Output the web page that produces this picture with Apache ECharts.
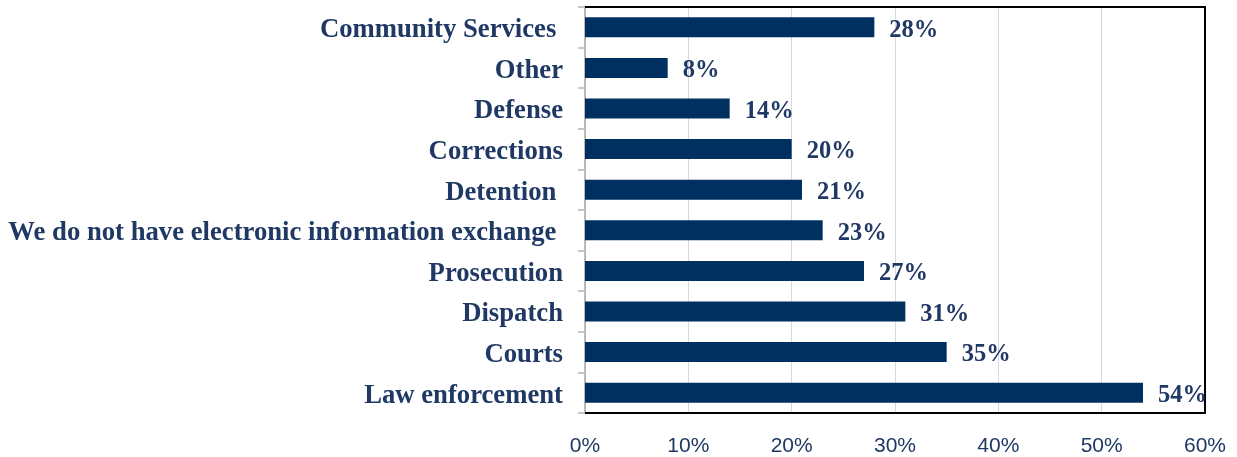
<!DOCTYPE html>
<html>
<head>
<meta charset="utf-8">
<script src="https://cdn.jsdelivr.net/npm/echarts@6/dist/echarts.min.js"></script>
<style>
  html, body { margin: 0; padding: 0; background: #ffffff; }
  #chart { width: 1237px; height: 457px; }
</style>
</head>
<body>
<div id="chart"></div>
<script>
// Categories listed from bottom to top (category axes grow upward)
const categories = [
  'Law enforcement',
  'Courts',
  'Dispatch',
  'Prosecution',
  'We do not have electronic information exchange ',
  'Detention ',
  'Corrections',
  'Defense',
  'Other',
  'Community Services '
];
const percentValues = [54, 35, 31, 27, 23, 21, 20, 14, 8, 28];
const tickValues = [0, 10, 20, 30, 40, 50, 60];

const navy = '#1f3864';
const barColor = '#003060';

const chart = echarts.init(document.getElementById('chart'));
chart.setOption({
  animation: false,
  grid: { left: 585, right: 32, top: 7, bottom: 44, containLabel: false },
  xAxis: [
    {
      type: 'value',
      min: tickValues[0],
      max: tickValues[tickValues.length - 1],
      interval: 10,
      position: 'bottom',
      axisLine: { show: true, onZero: false, lineStyle: { color: '#000000', width: 2 } },
      axisTick: { show: false },
      axisLabel: {
        formatter: v => v + '%',
        color: navy,
        fontFamily: 'Liberation Sans, Arial, sans-serif',
        fontSize: 21,
        margin: 23
      },
      splitLine: { show: true, lineStyle: { color: '#d9d9d9', width: 1 } }
    },
    {
      type: 'value',
      min: tickValues[0],
      max: tickValues[tickValues.length - 1],
      interval: 10,
      position: 'top',
      axisLine: { show: true, onZero: false, lineStyle: { color: '#000000', width: 2 } },
      axisTick: { show: false },
      axisLabel: { show: false },
      splitLine: { show: false }
    }
  ],
  yAxis: [
    {
      type: 'category',
      data: categories,
      position: 'left',
      axisLine: { show: true, onZero: false, lineStyle: { color: '#a6a6a6', width: 1.5 } },
      axisTick: { show: true, length: 7, lineStyle: { color: '#c8c8c8', width: 2 } },
      axisLabel: {
        color: navy,
        fontFamily: 'Liberation Serif, Times New Roman, serif',
        fontWeight: 'bold',
        fontSize: 26.7,
        margin: 22,
        // top-anchored short line box: glyphs sit a few pixels below the band centre
        verticalAlign: 'top',
        lineHeight: 6
      }
    },
    {
      type: 'category',
      data: categories,
      position: 'right',
      axisLine: { show: true, onZero: false, lineStyle: { color: '#000000', width: 2 } },
      axisTick: { show: false },
      axisLabel: { show: false }
    }
  ],
  series: [
    {
      type: 'bar',
      data: percentValues,
      xAxisIndex: 0,
      yAxisIndex: 0,
      barWidth: 20,
      itemStyle: { color: barColor },
      label: {
        show: true,
        position: 'right',
        distance: 15,
        offset: [0, 3],
        formatter: p => p.value + '%',
        color: navy,
        fontFamily: 'Liberation Serif, Times New Roman, serif',
        fontWeight: 'bold',
        fontSize: 24.5
      }
    }
  ]
});
</script>
</body>
</html>
